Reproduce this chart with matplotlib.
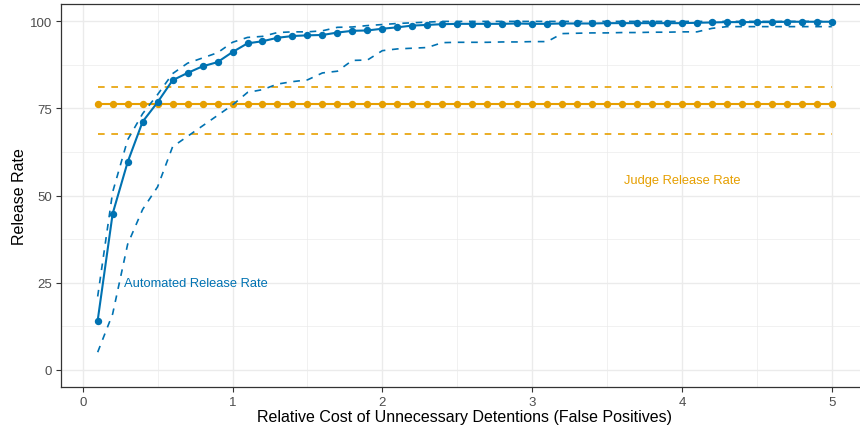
import matplotlib
matplotlib.use("Agg")
import matplotlib.pyplot as plt
import numpy as np

plt.rcParams['font.family'] = ['Liberation Sans', 'DejaVu Sans']

# relative cost of false positives, 0.1 .. 5.0
cost = [round(0.1 * i, 1) for i in range(1, 51)]

auto_rate = [14.1, 44.8, 59.6, 71.2, 76.8, 83.1, 85.2, 87.1, 88.3, 91.2,
             93.7, 94.3, 95.3, 95.8, 96.0, 96.1, 96.8, 97.3, 97.4, 97.9,
             98.3, 98.8, 99.0, 99.2, 99.3, 99.3, 99.3, 99.3, 99.4, 99.3,
             99.3, 99.4, 99.4, 99.4, 99.5, 99.5, 99.5, 99.5, 99.5, 99.5,
             99.6, 99.7, 99.8, 99.8, 99.8, 99.8, 99.9, 99.9, 99.9, 99.9]
auto_upper = [21.0, 51.0, 66.0, 73.5, 79.0, 85.0, 88.0, 89.5, 91.0, 94.0,
              95.4, 95.7, 96.8, 97.0, 97.0, 97.3, 98.3, 98.4, 98.8, 99.1,
              99.4, 99.6, 99.8, 100.0, 100.0, 100.0, 100.0, 100.0, 100.0, 100.0,
              100.0, 100.0, 100.0, 100.0, 100.0, 100.0, 100.0, 100.0, 100.0, 100.0,
              100.0, 100.0, 100.0, 100.0, 100.0, 100.0, 100.0, 100.0, 100.0, 100.0]
auto_lower = [5.0, 16.0, 36.0, 46.0, 52.5, 64.0, 67.0, 70.0, 73.0, 76.0,
              79.6, 80.4, 82.0, 82.7, 83.2, 85.2, 85.7, 88.8, 88.9, 91.6,
              92.1, 92.3, 92.5, 93.9, 94.0, 94.0, 94.0, 94.1, 94.1, 94.2,
              94.2, 96.5, 96.6, 96.7, 96.7, 96.8, 96.8, 96.9, 96.9, 97.0,
              97.0, 98.0, 98.5, 98.5, 98.5, 98.5, 98.5, 98.5, 98.5, 98.5]

judge_rate = [76.4] * len(cost)
judge_upper = [81.3] * len(cost)
judge_lower = [67.6] * len(cost)

blue = '#0072B2'
orange = '#E69F00'

fig = plt.figure(figsize=(8.6, 4.27), dpi=100)
ax = fig.add_axes([0.0709, 0.0913, 0.939, 0.897])

# judge reference band
ax.plot(cost, judge_upper, color=orange, lw=1.2, dashes=(4, 4))
ax.plot(cost, judge_lower, color=orange, lw=1.2, dashes=(4, 4))
ax.plot(cost, judge_rate, color=orange, lw=1.5, marker='o', ms=4.3)

# automated release with interval
ax.plot(cost, auto_upper, color=blue, lw=1.2, dashes=(4, 4))
ax.plot(cost, auto_lower, color=blue, lw=1.2, dashes=(4, 4))
ax.plot(cost, auto_rate, color=blue, lw=1.5, marker='o', ms=4.3)

ax.text(0.753, 25, 'Automated Release Rate', color=blue, fontsize=9.3,
        ha='center', va='center')
ax.text(4.0, 54.5, 'Judge Release Rate', color=orange, fontsize=9.3,
        ha='center', va='center')

ax.set_xlim(-0.145, 5.245)
ax.set_ylim(-5, 105)
ax.set_xticks([0, 1, 2, 3, 4, 5])
ax.set_yticks([0, 25, 50, 75, 100])
ax.set_xticks(np.arange(0.5, 5.5, 1.0), minor=True)
ax.set_yticks([12.5, 37.5, 62.5, 87.5], minor=True)

ax.grid(which='major', color='#EBEBEB', lw=1.0)
ax.grid(which='minor', color='#EBEBEB', lw=0.5)
ax.set_axisbelow(True)
ax.tick_params(which='major', length=3.8, width=0.8, color='#333333',
               labelcolor='#4D4D4D', labelsize=9.5, pad=2.5)
ax.tick_params(which='minor', length=0)
for s in ax.spines.values():
    s.set_color('#333333')
    s.set_linewidth(0.9)

ax.set_xlabel('Relative Cost of Unnecessary Detentions (False Positives)',
              fontsize=11.5, labelpad=1)
ax.set_ylabel('Release Rate', fontsize=11.5, labelpad=2)

fig.savefig('out.png', dpi=100)
